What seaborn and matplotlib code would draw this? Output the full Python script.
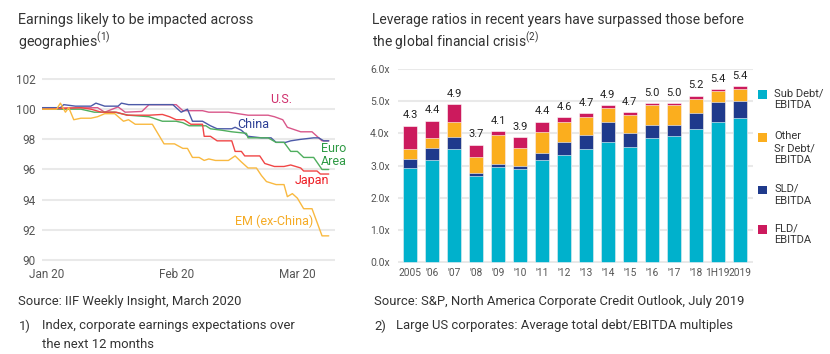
import numpy as np
import pandas as pd
import matplotlib
matplotlib.use("Agg")
import matplotlib.pyplot as plt
import matplotlib.dates as mdates
from matplotlib.patches import Rectangle
import seaborn as sns

# ---------------- Left chart data (index, days since 1 Jan 2020) ----------------
us_days = [-1, 12.2, 13.9, 17.1, 18.8, 22.8, 24.5, 31.0, 32.6, 37.3, 38.8, 43.5, 48.2, 53.0,
           54.5, 56.5, 57.6, 60.8, 63.5, 65.9, 67.5]
us_vals = [100.05, 100.1, 99.8, 100.15, 99.8, 99.85, 100.3, 100.3, 99.9, 99.9, 99.8, 99.8, 99.6,
           99.6, 99.5, 99.3, 98.8, 98.5, 98.5, 97.9, 97.9]

china_days = [-1, 3.3, 4.1, 6.9, 10.6, 11.8, 13.9, 17.1, 17.9, 19.6, 30.2, 32.2, 33.7, 34.9, 37.3,
              39.2, 40.8, 44.3, 45.1, 46.6, 48.2, 51.4, 53.7, 54.9, 57.2, 58.4, 60.8, 63.9, 65.1,
              66.3, 67.5]
china_vals = [100.1, 100.1, 100.3, 100.2, 100.2, 100.4, 100.2, 100.2, 100.4, 100.3, 100.3, 99.8,
              100.0, 99.2, 99.2, 98.9, 98.7, 98.7, 98.8, 98.6, 98.2, 98.1, 98.1, 97.8, 97.8, 97.9,
              98.0, 98.1, 98.1, 97.9, 97.9]

euro_days = [-1, 8.2, 11.4, 16.3, 19.6, 24.5, 27.7, 31.0, 32.6, 34.1, 38.1, 39.2, 42.0, 44.3, 47.8,
             48.2, 53.0, 54.9, 56.8, 58.4, 60.0, 61.5, 63.9, 65.9, 67.5]
euro_vals = [100.0, 100.0, 99.8, 99.8, 99.6, 99.5, 99.2, 99.2, 99.1, 98.9, 98.9, 98.7, 98.6, 98.5,
             98.4, 98.1, 98.1, 97.8, 97.8, 97.2, 97.2, 96.8, 96.8, 96.0, 96.0]

japan_days = [-1, 8.2, 10.6, 13.1, 16.7, 19.2, 24.5, 27.7, 29.4, 31.0, 32.9, 34.5, 37.3, 37.7, 39.2,
              40.8, 44.3, 45.1, 46.6, 47.4, 51.0, 52.2, 54.5, 56.8, 58.4, 60.8, 61.5, 64.7, 65.5,
              67.5]
japan_vals = [100.0, 100.1, 100.0, 99.8, 99.8, 99.6, 99.6, 99.65, 99.5, 99.3, 99.3, 99.0, 99.0, 98.2,
              98.2, 97.9, 97.9, 97.2, 97.2, 96.9, 96.9, 96.4, 96.2, 96.2, 96.3, 96.1, 95.9, 95.9,
              95.7, 95.7]

em_days = [-1, 2.4, 3.3, 4.5, 5.3, 6.5, 8.2, 10.6, 12.2, 13.9, 16.3, 18.4, 19.6, 21.2, 25.3, 28.1,
           30.6, 32.6, 33.7, 34.9, 36.5, 37.7, 38.8, 40.4, 43.5, 45.1, 46.6, 48.2, 50.2, 51.4, 52.6,
           54.9, 56.8, 57.6, 58.8, 60.0, 61.5, 63.5, 65.9, 67.5]
em_vals = [100.0, 100.0, 100.4, 99.8, 100.1, 99.3, 99.4, 99.4, 99.5, 99.7, 99.7, 99.2, 99.3, 99.0,
           99.0, 97.7, 97.7, 97.4, 97.4, 96.8, 96.8, 96.6, 96.7, 96.6, 96.6, 96.9, 96.5, 96.1, 96.1,
           95.6, 95.2, 95.0, 95.0, 94.2, 94.4, 94.1, 93.4, 93.4, 91.6, 91.6]

regions = ["U.S.", "China", "Euro\nArea", "Japan", "EM (ex-China)"]
left_yticks = [90, 92, 94, 96, 98, 100, 102]

# ---------------- Right chart data ----------------
years = ["2005", "'06", "'07", "'08", "'09", "'10", "'11", "'12", "'13", "'14", "'15", "'16",
         "'17", "'18", "1H19", "2019"]
sub_debt = [2.93, 3.17, 3.52, 2.67, 2.96, 2.90, 3.17, 3.34, 3.52, 3.72, 3.58, 3.87, 3.92, 4.14, 4.37, 4.49]
sld = [0.27, 0.37, 0.38, 0.10, 0.10, 0.08, 0.23, 0.38, 0.42, 0.64, 0.45, 0.40, 0.35, 0.49, 0.62, 0.53]
other_sr = [0.33, 0.31, 0.46, 0.51, 0.89, 0.58, 0.66, 0.64, 0.57, 0.44, 0.55, 0.61, 0.61, 0.46, 0.33, 0.38]
fld = [0.71, 0.54, 0.55, 0.37, 0.12, 0.32, 0.30, 0.14, 0.12, 0.08, 0.08, 0.07, 0.07, 0.08, 0.06, 0.07]
total_labels = ["4.3", "4.4", "4.9", "3.7", "4.1", "3.9", "4.4", "4.6", "4.7", "4.9", "4.7", "5.0",
                "5.0", "5.2", "5.4", "5.4"]
right_yticks = [0, 1, 2, 3, 4, 5, 6]
series_names = ["Sub Debt/\nEBITDA", "Other\nSr Debt/\nEBITDA", "SLD/\nEBITDA", "FLD/\nEBITDA"]

# ---------------- Styling ----------------
sns.set_theme(style="white")
FONT = ["Roboto", "DejaVu Sans"]
plt.rcParams["font.family"] = FONT

line_colors = {"U.S.": "#d9578a", "China": "#4c5aa8", "Euro\nArea": "#4fae5e",
               "Japan": "#f04646", "EM (ex-China)": "#f9b940"}
label_colors = {"U.S.": "#cf2f6c", "China": "#2b3d94", "Euro\nArea": "#2f9a45",
                "Japan": "#ee1f26", "EM (ex-China)": "#f5ab25"}
C_SUB, C_SLD, C_OTHER, C_FLD = "#00b1cc", "#1f3a8c", "#fbae1e", "#cc1a5d"
GRID = "#e9e9e9"
TXT = "#333333"
TICK = "#555555"

fig = plt.figure(figsize=(8.3, 3.54), dpi=100)
W, H = 830.0, 354.0

# ---------------- Left chart ----------------
base = pd.Timestamp("2020-01-01")
frames = []
for name, d, v in [("U.S.", us_days, us_vals), ("China", china_days, china_vals),
                   ("Euro\nArea", euro_days, euro_vals), ("Japan", japan_days, japan_vals),
                   ("EM (ex-China)", em_days, em_vals)]:
    frames.append(pd.DataFrame({"date": base + pd.to_timedelta(np.array(d), unit="D"),
                                "value": v, "region": name}))
df = pd.concat(frames, ignore_index=True)

ax1 = fig.add_axes([42 / W, 1 - 261.5 / H, 293 / W, 184 / H])
sns.lineplot(data=df, x="date", y="value", hue="region", palette=line_colors,
             estimator=None, sort=False, linewidth=1.0, legend=False, ax=ax1)
ax1.set_ylim(89.9, 102.1)
ax1.set_xlim(base + pd.Timedelta(days=-1.1), base + pd.Timedelta(days=69))
ax1.set_yticks(left_yticks)
ax1.set_yticklabels([str(t) for t in left_yticks])
ax1.xaxis.set_major_locator(mdates.MonthLocator())
ax1.xaxis.set_major_formatter(mdates.DateFormatter("%b %y"))
ax1.yaxis.grid(True, color=GRID, linewidth=1.5)
ax1.xaxis.grid(False)
for s in ax1.spines.values():
    s.set_visible(False)
ax1.tick_params(axis="y", length=0, pad=4.5, labelsize=8.5, labelcolor=TICK)
ax1.tick_params(axis="x", length=0, pad=5, labelsize=8.5, labelcolor=TICK)
ax1.set_xlabel("")
ax1.set_ylabel("")

label_pos = {"U.S.": (56.1, 100.66), "China": (49.5, 99.0), "Euro\nArea": (68.6, 96.97),
             "Japan": (63.4, 95.3), "EM (ex-China)": (54.5, 92.55)}
for name in regions:
    dx, yy = label_pos[name]
    ax1.text(base + pd.Timedelta(days=dx), yy, name, color=label_colors[name], ha="center",
             va="center", fontsize=9, linespacing=1.05)

# ---------------- Right chart ----------------
ax2 = fig.add_axes([398 / W, 1 - 262.5 / H, 355 / W, 194 / H])
s1 = np.array(sub_debt)
s2 = s1 + np.array(sld)
s3 = s2 + np.array(other_sr)
s4 = s3 + np.array(fld)
for vals, col in [(s4, C_FLD), (s3, C_OTHER), (s2, C_SLD), (s1, C_SUB)]:
    sns.barplot(x=years, y=vals, order=years, color=col, saturation=1, width=0.64,
                errorbar=None, edgecolor="white", linewidth=0.4, ax=ax2)
for i, (tot, lab) in enumerate(zip(s4, total_labels)):
    ax2.annotate(lab, (i, tot), xytext=(0, 4), textcoords="offset points", ha="center",
                 va="bottom", fontsize=8, color="#222222")
ax2.set_ylim(-0.03, 6.03)
ax2.set_xlim(-0.55, 15.6)
ax2.set_yticks(right_yticks)
ax2.set_yticklabels([f"{t:.1f}x" for t in right_yticks])
ax2.yaxis.grid(True, color=GRID, linewidth=1.5)
ax2.xaxis.grid(False)
ax2.set_axisbelow(True)
for s in ax2.spines.values():
    s.set_visible(False)
ax2.tick_params(axis="y", length=0, pad=6, labelsize=7.5, labelcolor=TICK)
ax2.tick_params(axis="x", length=0, pad=4, labelsize=7.3, labelcolor=TICK)
ax2.set_xlabel("")
ax2.set_ylabel("")

# legend (manual, right of chart)
leg_tops = [94.3, 137.3, 190.0, 229.3]
for name, col, ty in zip(series_names, [C_SUB, C_OTHER, C_SLD, C_FLD], leg_tops):
    fig.add_artist(Rectangle((758 / W, 1 - (ty + 4.2) / H), 8.5 / W, 8.5 / H,
                             transform=fig.transFigure, facecolor=col, edgecolor="none"))
    fig.text(774 / W, 1 - (ty - 6) / H, name, ha="left", va="top", fontsize=8,
             color=TXT, linespacing=1.25)

# ---------------- Titles, sources, notes ----------------
fig.text(18 / W, 1 - 20 / H, "Earnings likely to be impacted across", fontsize=10.3, color=TXT, va="center")
fig.text(18 / W, 1 - 42 / H, r"geographies$^{\mathregular{(1)}}$", fontsize=10.3, color=TXT, va="center")
fig.text(372 / W, 1 - 20 / H, "Leverage ratios in recent years have surpassed those before",
         fontsize=10, color=TXT, va="center")
fig.text(372 / W, 1 - 42 / H, r"the global financial crisis$^{\mathregular{(2)}}$", fontsize=10,
         color=TXT, va="center")

NOTE = 9.4
fig.text(18 / W, 1 - 301 / H, "Source: IIF Weekly Insight, March 2020", fontsize=NOTE, color=TXT, va="center")
fig.text(19 / W, 1 - 326 / H, "1)", fontsize=NOTE, color=TXT, va="center")
fig.text(42 / W, 1 - 326 / H, "Index, corporate earnings expectations over", fontsize=NOTE, color=TXT, va="center")
fig.text(42 / W, 1 - 344 / H, "the next 12 months", fontsize=NOTE, color=TXT, va="center")
fig.text(374 / W, 1 - 301 / H, "Source: S&P, North America Corporate Credit Outlook, July 2019",
         fontsize=NOTE, color=TXT, va="center")
fig.text(374 / W, 1 - 326 / H, "2)", fontsize=NOTE, color=TXT, va="center")
fig.text(396 / W, 1 - 326 / H, "Large US corporates: Average total debt/EBITDA multiples",
         fontsize=NOTE, color=TXT, va="center")

fig.savefig("out.png", dpi=100, facecolor="white")
